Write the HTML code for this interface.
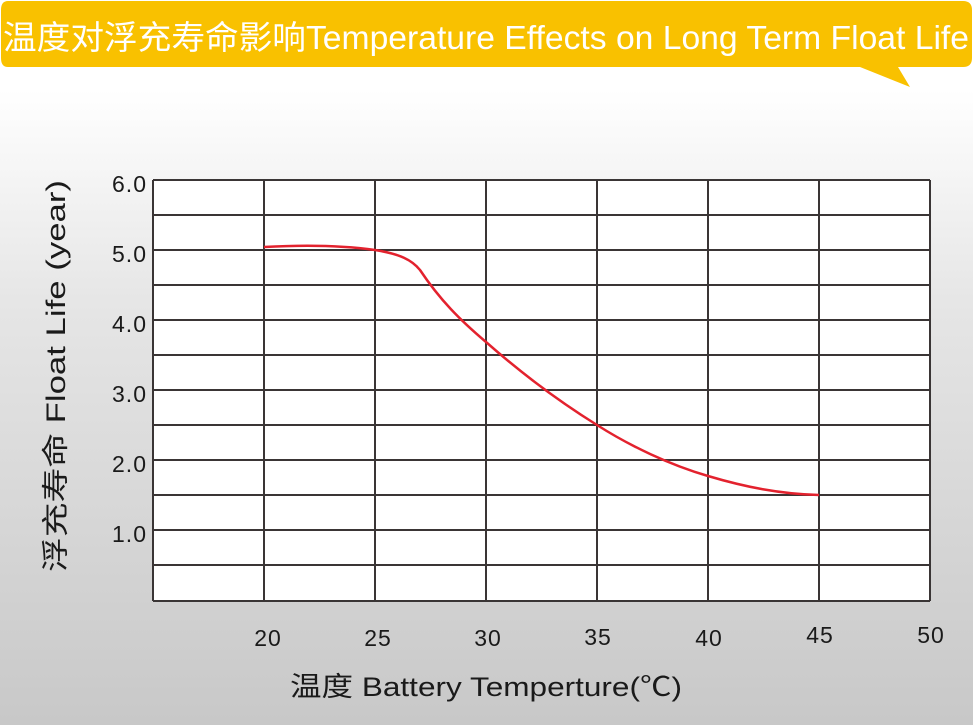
<!DOCTYPE html>
<html><head><meta charset="utf-8"><style>
html,body{margin:0;padding:0}
body{width:973px;height:725px;overflow:hidden;background:linear-gradient(#ffffff 0px,#ffffff 90px,#e6e6e6 300px,#c8c8c8 725px);font-family:"Liberation Sans","Noto Sans CJK SC",sans-serif}
</style></head><body>
<svg width="973" height="725" xmlns="http://www.w3.org/2000/svg" style="position:absolute;left:0;top:0">
<path d="M8,1 H963 Q972,1 972,10 V58 Q972,67 963,67 H898 L910,87 L860,67 H8 Q1,67 1,58 V10 Q1,1 8,1 Z" fill="#f9c100"/>
<text x="3" y="49" font-size="33" fill="#fff" font-family="Liberation Sans,Noto Sans CJK SC,sans-serif" textLength="966" lengthAdjust="spacingAndGlyphs">温度对浮充寿命影响Temperature Effects on Long Term Float Life</text>
<rect x="153" y="180" width="777" height="421" fill="#fff"/>
<g stroke="#3a3535" stroke-width="2" fill="none">
<path d="M153,180V601M264,180V601M375,180V601M486,180V601M597,180V601M708,180V601M819,180V601M930,180V601"/>
<path d="M153,180H930M153,215H930M153,250H930M153,285H930M153,320H930M153,355H930M153,390H930M153,425H930M153,460H930M153,495H930M153,530H930M153,565H930M153,601H930"/>
</g>
<path d="M264,247 C300,245 340,245 375,250 C400,254 412,260 420,270 C440,300 460,320 486,342 C520,372 560,402 597,425 C630,446 670,465 708,476 C745,487 780,494 819,495" stroke="#e3222e" stroke-width="2.5" fill="none"/>
<g font-size="23" fill="#1a1a1a" text-anchor="end" letter-spacing="1">
<text x="147" y="192">6.0</text><text x="147" y="262">5.0</text><text x="147" y="332">4.0</text><text x="147" y="402">3.0</text><text x="147" y="472">2.0</text><text x="147" y="542">1.0</text>
</g>
<g font-size="23" fill="#1a1a1a" text-anchor="middle" letter-spacing="1">
<text x="268" y="646">20</text><text x="378" y="646">25</text><text x="488" y="646">30</text><text x="598" y="645">35</text><text x="709" y="646">40</text><text x="820" y="643">45</text><text x="931" y="643">50</text>
</g>
<text x="290" y="696" font-size="27" fill="#1a1a1a" textLength="392" lengthAdjust="spacingAndGlyphs">温度  Battery  Temperture(℃)</text>
<text transform="translate(65,572) rotate(-90)" font-size="27" fill="#1a1a1a" textLength="392" lengthAdjust="spacingAndGlyphs">浮充寿命  Float Life (year)</text>
</svg>
</body></html>
